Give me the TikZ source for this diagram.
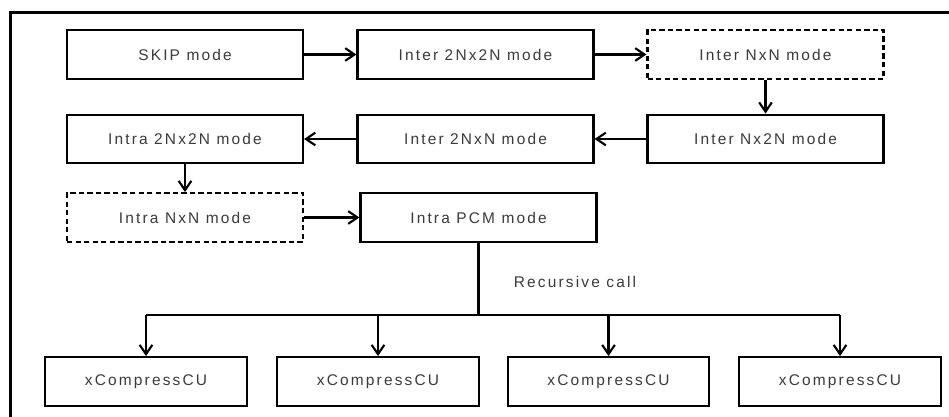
\documentclass[tikz,border=0pt]{standalone}
\usepackage{fontspec}
\setmainfont{Liberation Sans}[LetterSpace=14]
\usetikzlibrary{arrows.meta}
\definecolor{txt}{HTML}{3A3A3A}
\tikzset{
  modebox/.style={draw=black, line width=1.6pt, minimum width=177pt, minimum height=36.5pt,
    inner sep=0pt, text=txt, font=\fontsize{11.6}{14}\selectfont},
  optbox/.style={modebox, dashed, dash pattern=on 4pt off 2.4pt},
  cubox/.style={modebox, minimum width=151pt},
  flow/.style={line width=1.6pt, -{Straight Barb[length=7pt,width=9.5pt,line width=1.6pt]}},
  wire/.style={line width=1.6pt},
}
\begin{document}
\begin{tikzpicture}[x=0.75pt, y=-0.75pt]
  \useasboundingbox (0,0) rectangle (949,417);
  % outer frame (top and left sides)
  \draw[line width=1.6pt] (10.5,417) -- (10.5,12.5) -- (949,12.5);

  % first row
  \node[modebox] (skip)  at (185,54.5)   {SKIP mode};
  \node[modebox] (i2n)   at (475.5,54.5) {Inter 2Nx2N mode};
  \node[optbox]  (inxn)  at (765.5,54.5) {Inter NxN mode};
  % second row
  \node[modebox] (a2n)   at (185,139)    {Intra 2Nx2N mode};
  \node[modebox] (i2nxn) at (475.5,139)  {Inter 2NxN mode};
  \node[modebox] (inx2n) at (765.5,139)  {Inter Nx2N mode};
  % third row
  \node[optbox]  (anxn)  at (185,217.5)  {Intra NxN mode};
  \node[modebox] (pcm)   at (478.5,217.5){Intra PCM mode};
  % recursive calls
  \node[cubox] (cu1) at (146,381.5)   {xCompressCU};
  \node[cubox] (cu2) at (378,381.5)   {xCompressCU};
  \node[cubox] (cu3) at (608.5,381.5) {xCompressCU};
  \node[cubox] (cu4) at (840,381.5)   {xCompressCU};

  \node[text=txt, font=\fontsize{11.6}{14}\selectfont] (rc) at (575,282) {Recursive call};

  % mode order
  \draw[flow] (skip) -- (i2n);
  \draw[flow] (i2n) -- (inxn);
  \draw[flow] (inxn) -- (inx2n);
  \draw[flow] (inx2n) -- (i2nxn);
  \draw[flow] (i2nxn) -- (a2n);
  \draw[flow] (a2n) -- (anxn);
  \draw[flow] (anxn) -- (pcm);

  % split into four sub-CUs
  \coordinate (split) at (478.5,315);
  \draw[wire] (pcm.south) -- (split);
  \draw[wire] (cu1.north |- split) -- (cu4.north |- split);
  \foreach \c in {cu1,cu2,cu3,cu4}
    \draw[flow] (\c.north |- split) -- (\c.north);
\end{tikzpicture}
\end{document}
